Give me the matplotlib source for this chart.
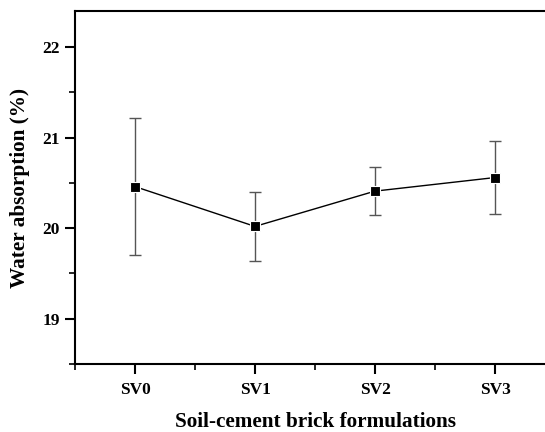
import matplotlib
matplotlib.use("Agg")
import matplotlib.pyplot as plt
from matplotlib.ticker import MultipleLocator

# data
formulations = ["SV0", "SV1", "SV2", "SV3"]
water_abs = [20.46, 20.02, 20.41, 20.56]
err_low = [19.70, 19.64, 20.15, 20.16]
err_high = [21.22, 20.40, 20.68, 20.96]

yerr = [
    [w - lo for w, lo in zip(water_abs, err_low)],
    [hi - w for w, hi in zip(water_abs, err_high)],
]
x = list(range(len(formulations)))

plt.rcParams["font.family"] = ["Liberation Serif", "DejaVu Serif"]
plt.rcParams["font.weight"] = "bold"

fig = plt.figure(figsize=(5.45, 4.32), dpi=100)
ax = fig.add_axes([75 / 545, 68 / 432, 480 / 545, 353 / 432])

ax.errorbar(
    x, water_abs, yerr=yerr, fmt="none", ecolor="#555555",
    elinewidth=1.0, capsize=4, capthick=1.0, zorder=2,
)
ax.plot(x, water_abs, color="black", lw=1.0, zorder=3)
ax.plot(x, water_abs, "s", color="black", ms=7.5, mec="white", mew=0.8, zorder=4)

ax.set_xlim(-0.5, 3.5)
ax.set_ylim(18.5, 22.4)
ax.set_xticks(x)
ax.set_xticklabels(formulations)
ax.xaxis.set_minor_locator(MultipleLocator(0.5))
ax.yaxis.set_major_locator(MultipleLocator(1))
ax.yaxis.set_minor_locator(MultipleLocator(0.5))

for side in ["left", "bottom", "top", "right"]:
    ax.spines[side].set_linewidth(1.5)

ax.tick_params(which="major", direction="out", length=7, width=1.5,
               labelsize=12.5, pad=4, top=False, right=False)
ax.tick_params(axis="x", which="major", pad=6)
ax.tick_params(which="minor", direction="out", length=4, width=1.2,
               top=False, right=False)
for lab in ax.get_xticklabels() + ax.get_yticklabels():
    lab.set_fontweight("bold")

ax.set_xlabel("Soil-cement brick formulations", fontsize=15.3, fontweight="bold", labelpad=10)
ax.set_ylabel("Water absorption (%)", fontsize=15.3, fontweight="bold", labelpad=9)

fig.savefig("out.png", dpi=100)
